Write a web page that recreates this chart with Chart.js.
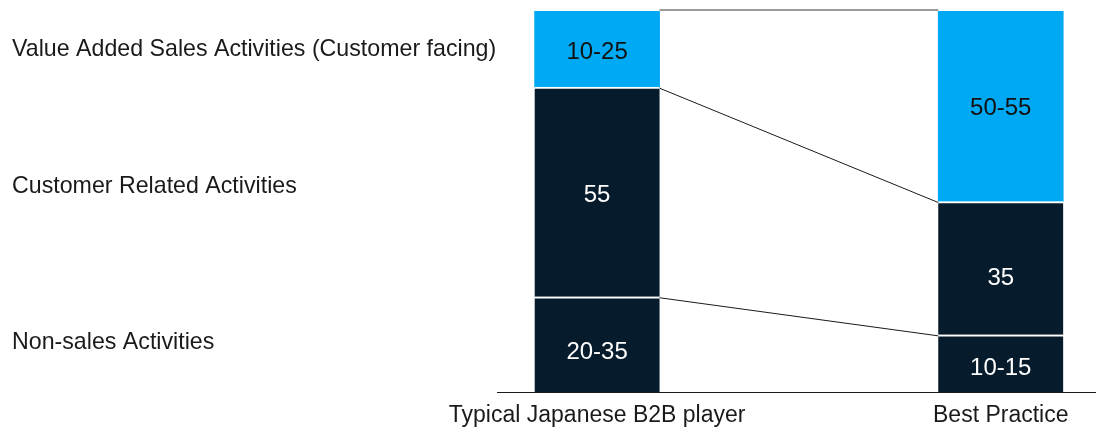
<!DOCTYPE html>
<html>
<head>
<meta charset="utf-8">
<script src="https://cdn.jsdelivr.net/npm/chart.js@4.4.1/dist/chart.umd.min.js"></script>
<style>
  html, body { margin: 0; padding: 0; background: #ffffff; }
  #wrap { width: 1096px; height: 435px; position: relative; }
</style>
</head>
<body>
<div id="wrap"><canvas id="c"></canvas></div>
<script>
// ---- data ----
const categories = ['Typical Japanese B2B player', 'Best Practice'];
const seriesNames = ['Non-sales Activities', 'Customer Related Activities', 'Value Added Sales Activities (Customer facing)'];
const nonSales = [25, 15];
const customerRelated = [55, 35];
const valueAdded = [20, 50];
const nonSalesLabels = ['20-35', '10-15'];
const customerRelatedLabels = ['55', '35'];
const valueAddedLabels = ['10-25', '50-55'];

// ---- style (label nudges, px) ----
const FONT = "'Liberation Sans', Arial, sans-serif";
const NAVY = '#061C2C';
const BLUE = '#00A9F4';
const valueLabelNudge = [[6.5, 2.5], [1.5, 8], [1, 0]];
const seriesLabelNudge = [5, 1.5, 7];

function pts(arr) { return arr.map((v, i) => ({ x: i, y: v })); }

const valueLabels = [nonSalesLabels, customerRelatedLabels, valueAddedLabels];
const textColors = ['#ffffff', '#ffffff', '#111111'];

const overlay = {
  id: 'overlay',
  afterDatasetsDraw(chart) {
    const ctx = chart.ctx;
    const metas = [0, 1, 2].map(i => chart.getDatasetMeta(i));
    ctx.save();
    // connector lines
    metas.forEach((meta, d) => {
      const a = meta.data[0], b = meta.data[1];
      const x1 = a.x + a.width / 2, x2 = b.x - b.width / 2;
      const y1 = a.y, y2 = b.y;
      ctx.beginPath();
      ctx.lineWidth = d === 2 ? 1.5 : 1;
      ctx.strokeStyle = d === 2 ? '#7a7a7a' : '#1a1a1a';
      const off = d === 2 ? -1 : 1;
      ctx.moveTo(x1, y1 + off);
      ctx.lineTo(x2, y2 + off);
      ctx.stroke();
    });
    // value labels in bars
    const vs = 24;
    ctx.font = vs + 'px ' + FONT;
    ctx.textAlign = 'center';
    ctx.textBaseline = 'alphabetic';
    metas.forEach((meta, d) => {
      meta.data.forEach((el, i) => {
        ctx.fillStyle = textColors[d];
        const cy = (el.y + el.base) / 2 + valueLabelNudge[d][i];
        ctx.fillText(valueLabels[d][i], el.x, cy + 0.716 * vs / 2);
      });
    });
    // series labels on the left
    ctx.font = '23.2px ' + FONT;
    ctx.textAlign = 'left';
    ctx.textBaseline = 'alphabetic';
    ctx.fillStyle = '#1a1a1a';
    metas.forEach((meta, d) => {
      const el = meta.data[0];
      ctx.fillText(seriesNames[d], 12, (el.y + el.base) / 2 + seriesLabelNudge[d]);
    });
    ctx.restore();
  }
};

new Chart(document.getElementById('c'), {
  type: 'bar',
  data: {
    datasets: [
      { label: seriesNames[0], data: pts(nonSales), backgroundColor: NAVY,
        borderColor: '#ffffff', borderWidth: { top: 2, left: 0, right: 0, bottom: 0 }, borderSkipped: false },
      { label: seriesNames[1], data: pts(customerRelated), backgroundColor: NAVY,
        borderColor: '#ffffff', borderWidth: { top: 2, left: 0, right: 0, bottom: 0 }, borderSkipped: false },
      { label: seriesNames[2], data: pts(valueAdded), backgroundColor: BLUE, borderWidth: 0 }
    ]
  },
  options: {
    responsive: true,
    maintainAspectRatio: false,
    animation: false,
    barThickness: 125,
    layout: { padding: { left: 497, right: 0, top: 11, bottom: 0 } },
    plugins: { legend: { display: false }, tooltip: { enabled: false } },
    scales: {
      x: {
        type: 'linear',
        stacked: true,
        offset: false,
        bounds: 'data',
        min: -0.248,
        max: 1.236,
        afterDataLimits(scale) { scale.min = -0.248; scale.max = 1.236; },
        afterBuildTicks(scale) { scale.ticks = [{ value: 0 }, { value: 1 }]; },
        afterFit(scale) { scale.height = 43; },
        grid: { display: false, drawTicks: false, offset: false },
        border: { display: true, color: '#1a1a1a', width: 1 },
        ticks: {
          padding: 10,
          color: '#1a1a1a',
          font: { family: FONT, size: 23 },
          maxRotation: 0,
          autoSkip: false,
          callback: (v) => categories[v] ?? ''
        }
      },
      y: {
        stacked: true,
        display: false,
        min: 0,
        max: 100
      }
    }
  },
  plugins: [overlay]
});
</script>
</body>
</html>
